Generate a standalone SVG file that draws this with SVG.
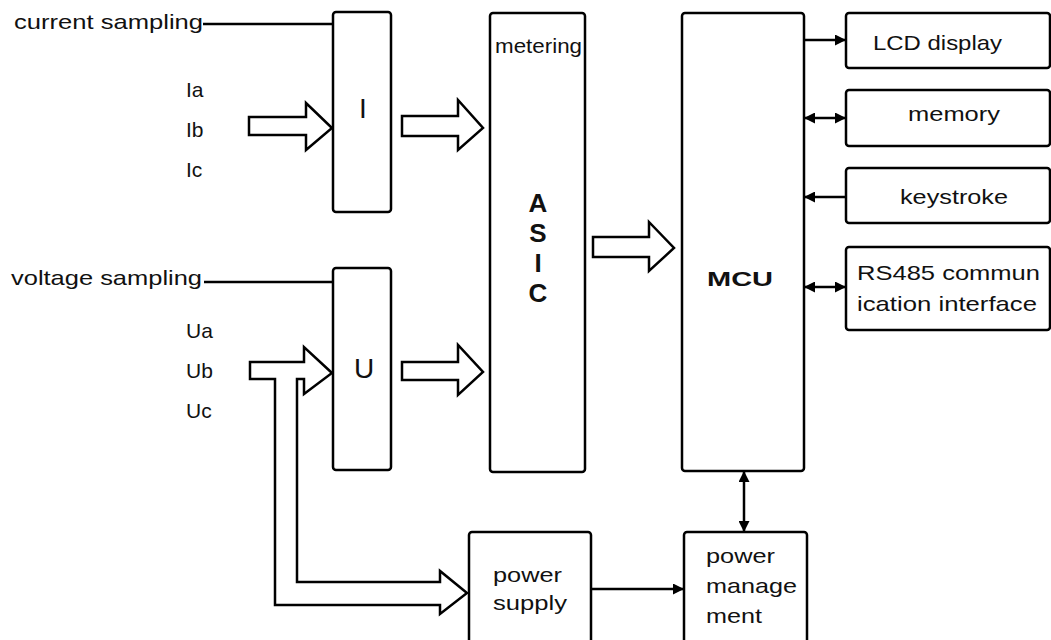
<svg xmlns="http://www.w3.org/2000/svg" width="1051" height="640" viewBox="0 0 1051 640">
<style>
.box{fill:#fff;stroke:#000;stroke-width:2.5}
.blk{fill:#fff;stroke:#000;stroke-width:2.5;stroke-linejoin:miter}
.ln{fill:none;stroke:#000;stroke-width:2.5}
text{font-family:"Liberation Sans",Arial,sans-serif;fill:#111;font-size:21px}
.big{font-size:28px}
.bold{font-weight:bold;font-size:26px;text-anchor:middle}
</style>
<defs>
<marker id="ah" viewBox="0 0 10 10" refX="10" refY="5" markerWidth="11" markerHeight="11" markerUnits="userSpaceOnUse" orient="auto-start-reverse">
<path d="M0,0 L10,5 L0,10 z" fill="#000"/>
</marker>
</defs>
<rect width="1051" height="640" fill="#fff"/>

<g id="labels">
<text x="14" y="29" textLength="189" lengthAdjust="spacingAndGlyphs">current sampling</text>
<text x="11" y="285" textLength="191" lengthAdjust="spacingAndGlyphs">voltage sampling</text>
<text x="186" y="97" font-size="22">Ia</text>
<text x="186" y="137" font-size="22">Ib</text>
<text x="186" y="177" font-size="22">Ic</text>
<text x="186" y="338" font-size="22">Ua</text>
<text x="186" y="378" font-size="22">Ub</text>
<text x="186" y="418" font-size="22">Uc</text>
</g>

<g id="node-I">
<rect class="box" x="333" y="12" width="58" height="200" rx="3"/>
<text class="big" x="363" y="118" text-anchor="middle">I</text>
</g>
<g id="node-U">
<rect class="box" x="333" y="268" width="58" height="202" rx="3"/>
<text class="big" x="364" y="378" text-anchor="middle">U</text>
</g>
<g id="node-ASIC">
<rect class="box" x="490" y="13" width="95" height="459" rx="3"/>
<text x="495" y="53" font-size="20" textLength="87" lengthAdjust="spacingAndGlyphs">metering</text>
<text class="bold" x="538" y="212">A</text>
<text class="bold" x="538" y="242">S</text>
<text class="bold" x="538" y="272">I</text>
<text class="bold" x="538" y="302">C</text>
</g>
<g id="node-MCU">
<rect class="box" x="682" y="13" width="122" height="458" rx="3"/>
<text x="707" y="286" font-size="27" font-weight="bold" textLength="66" lengthAdjust="spacingAndGlyphs">MCU</text>
</g>
<g id="node-LCD">
<rect class="box" x="846" y="13" width="204" height="55" rx="3"/>
<text x="873" y="50" font-size="22" textLength="129" lengthAdjust="spacingAndGlyphs">LCD display</text>
</g>
<g id="node-memory">
<rect class="box" x="846" y="90" width="204" height="56" rx="3"/>
<text x="908" y="121" font-size="22" textLength="92" lengthAdjust="spacingAndGlyphs">memory</text>
</g>
<g id="node-keystroke">
<rect class="box" x="846" y="168" width="204" height="55" rx="3"/>
<text x="900" y="204" font-size="22" textLength="108" lengthAdjust="spacingAndGlyphs">keystroke</text>
</g>
<g id="node-RS485">
<rect class="box" x="846" y="247" width="204" height="83" rx="3"/>
<text x="857" y="280" textLength="183" lengthAdjust="spacingAndGlyphs">RS485 commun</text>
<text x="857" y="311" textLength="180" lengthAdjust="spacingAndGlyphs">ication interface</text>
</g>
<g id="node-power-supply">
<rect class="box" x="469" y="532" width="122" height="130" rx="3"/>
<text x="493" y="582" font-size="22" textLength="69" lengthAdjust="spacingAndGlyphs">power</text>
<text x="493" y="610" font-size="22" textLength="74" lengthAdjust="spacingAndGlyphs">supply</text>
</g>
<g id="node-power-management">
<rect class="box" x="684" y="532" width="123" height="130" rx="3"/>
<text x="706" y="563" font-size="22" textLength="69" lengthAdjust="spacingAndGlyphs">power</text>
<text x="706" y="593" font-size="22" textLength="91" lengthAdjust="spacingAndGlyphs">manage</text>
<text x="706" y="623" font-size="22" textLength="56" lengthAdjust="spacingAndGlyphs">ment</text>
</g>

<g id="connectors">
<line class="ln" x1="203" y1="24" x2="333" y2="24"/>
<line class="ln" x1="204" y1="282" x2="333" y2="282"/>
<polygon class="blk" points="249,117 306,117 306,103 332,128 306,150 306,135 249,135"/>
<polygon class="blk" points="402,116 458,116 458,100 483,128 458,150 458,136 402,136"/>
<polygon class="blk" points="402,362 458,362 458,345 483,372 458,395 458,380 402,380"/>
<polygon class="blk" points="593,237 649,237 649,222 674,248 649,271 649,257 593,257"/>
<path class="blk" d="M250,362 H304 V347 L332,373 L304,394 V379 H297 V582 H440 V571 L467,593 L440,614 V605 H275 V379 H250 Z"/>
<line class="ln" x1="804" y1="40" x2="846" y2="40" marker-end="url(#ah)"/>
<line class="ln" x1="804" y1="118" x2="846" y2="118" marker-start="url(#ah)" marker-end="url(#ah)"/>
<line class="ln" x1="846" y1="197" x2="804" y2="197" marker-end="url(#ah)"/>
<line class="ln" x1="804" y1="287" x2="846" y2="287" marker-start="url(#ah)" marker-end="url(#ah)"/>
<line class="ln" x1="744" y1="471" x2="744" y2="532" marker-start="url(#ah)" marker-end="url(#ah)"/>
<line class="ln" x1="591" y1="589" x2="684" y2="589" marker-end="url(#ah)"/>
</g>
</svg>
